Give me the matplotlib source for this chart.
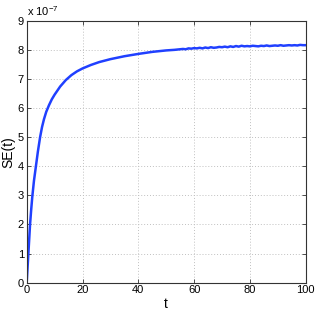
import matplotlib
matplotlib.use("Agg")
import matplotlib.pyplot as plt
import numpy as np

plt.rcParams['font.family'] = ['Liberation Sans', 'DejaVu Sans']
plt.rcParams['mathtext.fontset'] = 'custom'
plt.rcParams['mathtext.rm'] = 'Liberation Sans'

# SE(t), in units of 1e-7
t_vals = [0, 0.3, 0.6, 0.9, 1.2, 1.6, 2.0, 2.6, 3.3, 4.0, 4.8, 5.5, 6.2, 7.0, 8.0,
          9.0, 10, 12, 14, 16, 18, 20, 23, 26, 30, 35, 40, 45, 50, 53,
          56, 57, 58, 59, 60, 61, 62, 63, 64, 65, 66, 67, 68, 69, 70,
          71, 72, 73, 74, 75, 76, 77, 78, 79, 80, 81, 82, 83, 84, 85,
          86, 87, 88, 89, 90, 91, 92, 93, 94, 95, 96, 97, 98, 99, 100]
se_vals = [0, 0.5, 1.0, 1.5, 2.0, 2.5, 2.95, 3.5, 4.0, 4.5, 5.0, 5.35, 5.62, 5.87, 6.1,
           6.3, 6.46, 6.74, 6.96, 7.13, 7.26, 7.36, 7.48, 7.58, 7.68, 7.78, 7.86, 7.93, 7.98, 8.0,
           8.03, 8.02, 8.05, 8.04, 8.06, 8.05, 8.07, 8.05, 8.08, 8.06, 8.09, 8.07, 8.08, 8.10, 8.09,
           8.11, 8.09, 8.12, 8.10, 8.13, 8.11, 8.14, 8.12, 8.13, 8.12, 8.14, 8.13, 8.12, 8.14, 8.13,
           8.15, 8.13, 8.14, 8.15, 8.14, 8.16, 8.14, 8.15, 8.16, 8.15, 8.16, 8.15, 8.17, 8.16, 8.16]

fig = plt.figure(figsize=(3.16, 3.16), dpi=100)
ax = fig.add_axes([0.0845, 0.1054, 0.883, 0.829])

ax.plot(t_vals, np.array(se_vals) * 1e-7, color='#2040ff', linewidth=1.8)

ax.set_xlim(0, 100)
ax.set_ylim(0, 9e-7)
ax.set_xticks(np.arange(0, 101, 20))
ax.set_yticks(np.arange(0, 10) * 1e-7)
ax.set_yticklabels([str(i) for i in range(10)])

ax.grid(True, linestyle=(0, (1, 2)), color='#c0c0c0', linewidth=0.7)
ax.tick_params(direction='in', length=3, width=0.6, labelsize=8, pad=2,
               top=True, right=True, colors='#333333', labelcolor='black')
for s in ax.spines.values():
    s.set_color('#333333')
    s.set_linewidth(0.8)

ax.set_xlabel('t', fontsize=10, labelpad=1)
ax.set_ylabel('SE(t)', fontsize=10, labelpad=2)
ax.text(0.0, 1.01, r'x 10$^{-7}$', transform=ax.transAxes, fontsize=8,
        ha='left', va='bottom')

fig.savefig('out.png', dpi=100)
